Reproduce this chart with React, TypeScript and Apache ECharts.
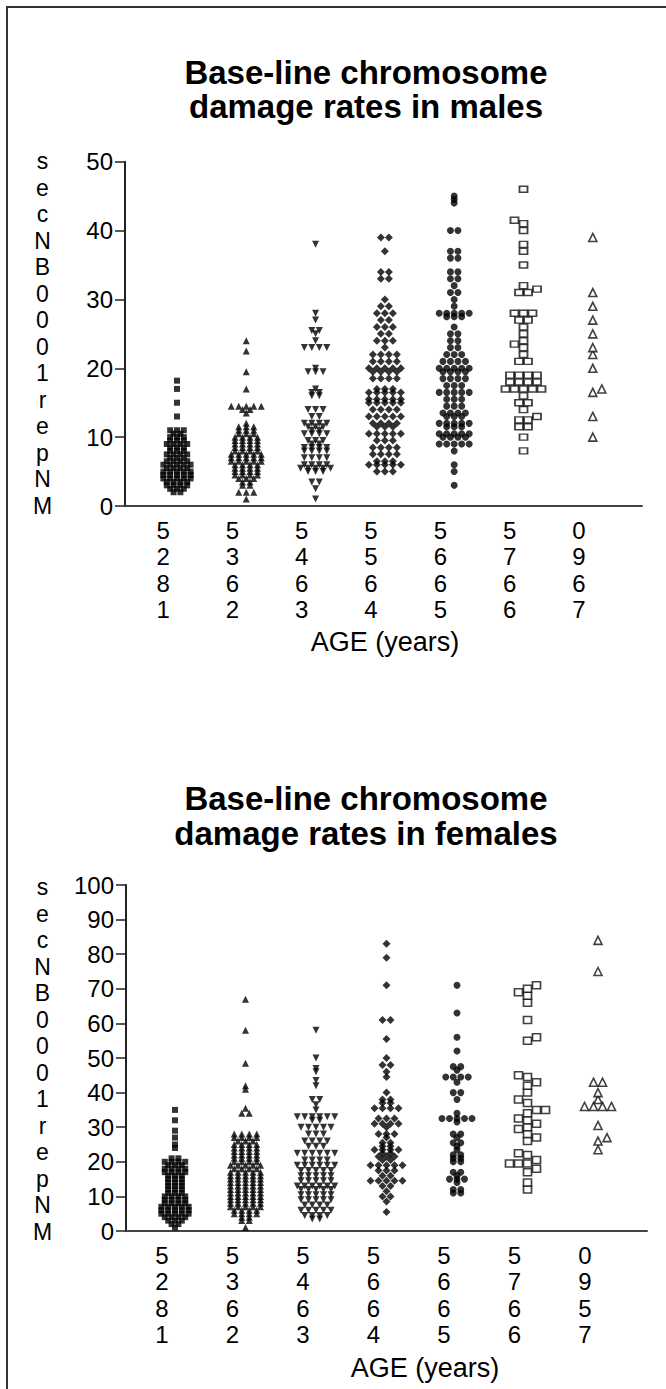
import React, { useEffect, useRef } from "react";
import * as echarts from "echarts";

// ---------- DATA ----------
const ageLabelsMale = ["5\n2\n8\n1", "5\n3\n6\n2", "5\n4\n6\n3", "5\n5\n6\n4", "5\n6\n6\n5", "5\n7\n6\n6", "0\n9\n6\n7"];
const ageLabelsFemale = ["5\n2\n8\n1", "5\n3\n6\n2", "5\n4\n6\n3", "5\n6\n6\n4", "5\n6\n6\n5", "5\n7\n6\n6", "0\n9\n5\n7"];
const yAxisTitle = "s\ne\nc\nN\nB\n0\n0\n0\n1\nr\ne\np\nN\nM";
const titleMale = "Base-line chromosome\ndamage rates in males";
const titleFemale = "Base-line chromosome\ndamage rates in females";
const xAxisTitle = "AGE (years)";
const maleMax = 50;
const femaleMax = 100;
const tickStep = 10;

const male1 = [18.2, 17, 15, 13, 11, 11, 11, 10.5, 10.5, 10, 10, 10, 9.5, 9.5, 9.5, 9, 9, 9, 9, 8.5, 8.5, 8.5, 8, 8, 8,
  7.5, 7.5, 7.5, 7.5, 7, 7, 7, 6.5, 6.5, 6.5, 6.5, 6, 6, 6, 6, 6, 5.5, 5.5, 5.5, 5.5, 5, 5, 5, 5, 5,
  4.5, 4.5, 4.5, 4.5, 4.5, 4, 4, 4, 4, 4, 3.5, 3.5, 3.5, 3.5, 3, 3, 3, 3, 2.5, 2.5, 2.5, 2, 2];
const male2 = [24, 22.5, 19.5, 17, 14.5, 14.5, 14.5, 14.5, 14.5, 14, 14, 13.5, 12, 11.5, 11.5, 11.5, 11, 11, 11,
  10.5, 10.5, 10.5, 10, 10, 10, 10, 9.5, 9.5, 9.5, 9.5, 9, 9, 9, 9, 8.5, 8.5, 8.5, 8.5, 8, 8, 8, 8,
  7.5, 7.5, 7.5, 7.5, 7.5, 7, 7, 7, 7, 7, 6.5, 6.5, 6.5, 6.5, 6.5, 6, 6, 6, 6, 5.5, 5.5, 5.5, 5.5,
  5, 5, 5, 5, 4.5, 4.5, 4.5, 4.5, 4, 4, 4, 3.5, 3.5, 3, 3, 2, 2, 2, 1];
const male3 = [38, 28, 27, 25.5, 25.5, 25, 24, 23, 23, 23, 23, 20, 19.5, 19.5, 19.5, 17, 16.5, 16.5, 16, 16,
  14, 14, 14, 13, 13, 12, 12, 12, 12, 11.5, 11.5, 11.5, 11, 11, 10.5, 10.5, 10.5, 10.5, 9.5, 9.5, 9.5, 9, 9,
  8.5, 8.5, 8.5, 8.5, 8, 8, 8, 8, 7, 7, 7, 7, 6, 6, 6, 6, 5.5, 5.5, 5.5, 5.5, 5.5, 5, 5, 5, 3.5, 3.5, 2.5, 1];
const male4 = [39, 39, 37, 34, 34, 33, 33, 30, 29, 29, 28, 28, 28, 27, 27, 26, 26, 26, 25, 25, 24, 24, 24, 23,
  22, 22, 22, 22, 21, 21, 21, 21, 20, 20, 20, 20, 20, 19.5, 19.5, 19.5, 19.5, 18.5, 18.5, 18.5, 18.5, 17, 17, 17,
  16.5, 16.5, 16.5, 16.5, 16.5, 15.5, 15.5, 15.5, 15.5, 15.5, 15, 15, 15, 15, 15, 14, 14, 14, 14,
  13, 13, 13, 13, 13, 12, 12, 12, 12, 11.5, 11.5, 11.5, 10.5, 10.5, 10.5, 10.5, 10.5, 9.5, 9.5, 9.5,
  8.5, 8.5, 8.5, 8.5, 7.5, 7.5, 7.5, 7.5, 6.5, 6.5, 6.5, 6, 6, 6, 6, 6, 5, 5, 5];
const male5 = [45, 44.5, 44, 40, 40, 37, 37, 36, 36, 34, 34, 33, 33, 32, 31, 31, 30, 29, 28, 28, 28, 28, 28,
  27.5, 27.5, 27.5, 26, 25, 25, 24, 24, 23, 23, 22, 22, 22, 21, 21, 21, 21, 20, 20, 20, 20, 20,
  19.5, 19.5, 19.5, 19.5, 18.5, 18.5, 18.5, 18.5, 17.5, 17.5, 17.5, 16.5, 16.5, 16.5, 16.5, 16.5,
  15.5, 15.5, 15.5, 14.5, 14.5, 14.5, 13.5, 13.5, 13.5, 13.5, 13, 13, 13, 12, 12, 12, 12, 12,
  11.5, 11.5, 11.5, 10.5, 10.5, 10.5, 10.5, 10.5, 10, 10, 10, 10, 9, 9, 9, 9, 9, 8, 6, 5, 3];
const male6 = [46, 41.5, 41, 40, 38, 37, 35, 32, 31.5, 31, 31, 28, 28, 28, 27, 27, 26, 25, 24, 23.5, 23, 22,
  21, 21, 19, 19, 19, 19, 18, 18, 18, 18, 17, 17, 17, 17, 17, 16, 15, 15, 14, 13, 12.5, 12.5, 11.5, 11.5, 10, 8];
const male7 = [39, 31, 29, 27, 25, 23, 22, 20, 17, 16.5, 13, 10];

const female1 = [35, 32, 29, 27, 25, 24, 21, 21, 20, 20, 20, 20, 19, 19, 19, 18, 18, 18, 18, 17, 17, 17, 17,
  16, 16, 16, 15, 15, 15, 14, 14, 14, 13, 13, 13, 12, 12, 12, 11, 11, 11, 10, 10, 10, 10, 9, 9, 9, 9,
  8, 8, 8, 8, 7, 7, 7, 7, 7, 6, 6, 6, 6, 6, 5, 5, 5, 5, 5, 4, 4, 4, 4, 3, 3, 3, 2, 2, 1];
const female2 = [67, 58, 48.5, 42, 41, 35.5, 34, 34, 28, 28, 28, 28, 27, 27, 27, 27, 26, 26, 26, 25, 25, 25, 25,
  24, 24, 24, 24, 23, 23, 23, 23, 22, 22, 22, 22, 21, 21, 21, 21, 20, 20, 20, 20, 19, 19, 19, 19, 19,
  18, 18, 18, 18, 17, 17, 17, 17, 17, 16, 16, 16, 16, 16, 15, 15, 15, 15, 15, 14, 14, 14, 14, 14,
  13, 13, 13, 13, 13, 12, 12, 12, 12, 12, 11, 11, 11, 11, 11, 10, 10, 10, 10, 10, 9, 9, 9, 9, 9,
  8, 8, 8, 8, 8, 7, 7, 7, 7, 7, 6, 6, 6, 6, 5, 5, 5, 5, 4, 4, 3, 3, 1];
const female3 = [58, 50, 47, 46, 43.5, 42, 38, 38, 36.5, 35, 33, 33, 33, 33, 33, 33, 32, 32, 30, 30, 30, 30, 30,
  28, 28, 28, 26, 26, 26, 26, 24.5, 24.5, 24.5, 22.5, 22.5, 22.5, 22.5, 22.5, 22.5, 20.5, 20.5, 20.5, 20.5,
  19, 19, 19, 19, 19, 19, 17.5, 17.5, 17.5, 17.5, 17.5, 16, 16, 16, 16, 16, 14.5, 14.5, 14.5, 14.5, 14.5,
  13, 13, 13, 13, 13, 13, 12, 12, 12, 12, 12, 10.5, 10.5, 10.5, 10.5, 10.5, 9, 9, 9, 9, 9,
  7.5, 7.5, 7.5, 7.5, 6, 6, 6, 6, 6, 4.5, 4.5, 4.5, 4.5, 3.5, 3.5];
const female4 = [83, 79, 71, 61, 61, 55.5, 50, 48, 48, 46, 44.5, 40, 38, 38, 37, 37, 35.5, 35.5, 35.5, 35.5,
  32.5, 32.5, 32.5, 31, 31, 31, 31, 30, 28, 28, 28, 27, 25.5, 25.5, 24.5, 24.5, 23.5, 23.5, 23.5, 23.5,
  22.5, 22.5, 21.5, 21.5, 21.5, 20.5, 20.5, 19, 19, 19, 19, 19, 17.5, 17.5, 17.5, 16, 16,
  14.5, 14.5, 14.5, 14.5, 14.5, 13, 13, 11.5, 10, 10, 8.5, 5.5];
const female5 = [71, 63, 56, 52, 47.5, 47.5, 46.5, 44.5, 44.5, 44.5, 44.5, 43, 40, 40, 38, 34,
  32.5, 32.5, 32.5, 32.5, 32.5, 31.5, 28, 28, 27, 25.5, 25.5, 24.5, 23.5, 22, 22, 21, 21, 20, 20,
  17, 17, 16, 15, 15, 15, 14, 12, 12, 11, 11];
const female6 = [71, 70, 69, 68, 66, 61, 56, 55, 45, 44.5, 43, 42, 40, 38, 37, 35, 35, 34, 32.5, 32, 31, 30,
  29.5, 28, 27, 26, 22.5, 22, 20.5, 19.5, 19.5, 19.5, 18, 17, 14, 12];
const female7 = [84, 75, 43, 43, 40, 38, 36, 36, 36, 36, 30.5, 27, 26, 23.5];

// ---------- LAYOUT ----------
const FONT = "'Liberation Sans', Arial, Helvetica, sans-serif";
const G1 = { left: 125, top: 161.7, width: 517, height: 344.3 };
const G2 = { left: 126, top: 885, width: 521, height: 346 };
const X1 = { min: 0.25, max: 7.71, shift: -0.2 };
const X2 = { min: 0.305, max: 7.695, shift: -0.184 };

type Spec = { sym: string; size: number[]; rot?: number; open?: boolean; vy: number; hx: number };
const specs: Spec[] = [
  { sym: "rect", size: [6, 6], vy: 3, hx: 6.8 },
  { sym: "triangle", size: [7, 7], vy: 3, hx: 7.5 },
  { sym: "triangle", size: [7, 7], rot: 180, vy: 3, hx: 7.5 },
  { sym: "diamond", size: [8, 8], vy: 3, hx: 8 },
  { sym: "circle", size: [7, 7], vy: 3, hx: 7.5 },
  { sym: "rect", size: [8, 6], open: true, vy: 6.5, hx: 9 },
  { sym: "triangle", size: [8, 8], open: true, vy: 6, hx: 9 },
];

// Prism-like column scatter: equal values share a centred row; rows that would collide are shifted sideways.
function swarm(values: number[], xc: number, pxX: number, pxY: number, hx: number, vy: number) {
  const sorted = [...values].sort((a, b) => a - b);
  const groups: number[][] = [];
  for (const v of sorted) {
    const g = groups[groups.length - 1];
    if (g && g[0] === v) g.push(v);
    else groups.push([v]);
  }
  const placed: [number, number][] = [];
  const out: [number, number][] = [];
  let flip = 1;
  for (const g of groups) {
    const n = g.length;
    const py = g[0] * pxY;
    const base = g.map((_, j) => (j - (n - 1) / 2) * hx);
    let shift = 0;
    for (let k = 0; k < 80; k++) {
      const cands = k === 0 ? [0] : [(flip * k * hx) / 2, (-flip * k * hx) / 2];
      let found: number | null = null;
      for (const c of cands) {
        const ok = base.every((b) =>
          placed.every((p) => Math.abs(p[1] - py) >= vy || Math.abs(p[0] - (b + c)) >= hx - 0.01)
        );
        if (ok) {
          found = c;
          break;
        }
      }
      if (found !== null) {
        shift = found;
        break;
      }
    }
    if (shift !== 0) flip = -flip;
    for (const b of base) {
      placed.push([b + shift, py]);
      out.push([xc + (b + shift) / pxX, g[0]]);
    }
  }
  return out;
}

function buildSeries(groups: number[][], gi: number, grid: any, xr: any, yMax: number) {
  const pxX = grid.width / (xr.max - xr.min);
  const pxY = grid.height / yMax;
  return groups.map((vals, i) => {
    const s = specs[i];
    const sz = gi === 1 && s.open && s.sym === "rect" ? [8, 7] : s.size;
    return {
      type: "scatter",
      xAxisIndex: gi,
      yAxisIndex: gi,
      symbol: s.sym,
      symbolSize: sz,
      symbolRotate: s.rot || 0,
      silent: true,
      itemStyle: s.open
        ? { color: "#fff", borderColor: "#111", borderWidth: 1.6 }
        : { color: "#000" },
      data: swarm(vals, i + 1, pxX, pxY, s.hx, s.vy),
    };
  });
}

function xAxisOf(gi: number, xr: any, labels: string[]) {
  return {
    type: "value",
    gridIndex: gi,
    min: xr.min,
    max: xr.max,
    axisLine: { show: true, onZero: false, lineStyle: { color: "#444", width: 2 } },
    axisTick: { show: false },
    splitLine: { show: false },
    axisLabel: {
      customValues: labels.map((_, i) => i + 1 + xr.shift),
      formatter: (v: number) => labels[Math.round(v - xr.shift) - 1] ?? "",
      fontSize: 24,
      lineHeight: 26.5,
      color: "#000",
      fontFamily: FONT,
      margin: 11,
    },
  };
}

function yAxisOf(gi: number, max: number) {
  return {
    type: "value",
    gridIndex: gi,
    min: 0,
    max,
    interval: tickStep,
    axisLine: { show: true, lineStyle: { color: "#222", width: 2 } },
    axisTick: { show: true, length: 10, inside: false, lineStyle: { color: "#222", width: 1.5 } },
    splitLine: { show: false },
    axisLabel: { fontSize: 24, color: "#000", fontFamily: FONT, margin: 12 },
  };
}

export default function App() {
  const ref = useRef<HTMLDivElement>(null);
  useEffect(() => {
    if (!ref.current) return;
    const chart = echarts.init(ref.current, null, { renderer: "svg" });
    const titleStyle = { fontSize: 33, fontWeight: "bold", fontFamily: FONT, fill: "#000", align: "center", verticalAlign: "middle" };
    const yNameStyle = { text: yAxisTitle, fontSize: 23, lineHeight: 26.5, fontFamily: FONT, fill: "#000", align: "center", verticalAlign: "middle" };
    const xNameStyle = { text: xAxisTitle, fontSize: 27, fontFamily: FONT, fill: "#000", align: "center", verticalAlign: "middle" };
    chart.setOption({
      animation: false,
      backgroundColor: "#fff",
      grid: [
        { ...G1, containLabel: false },
        { ...G2, containLabel: false },
      ],
      xAxis: [xAxisOf(0, X1, ageLabelsMale), xAxisOf(1, X2, ageLabelsFemale)],
      yAxis: [yAxisOf(0, maleMax), yAxisOf(1, femaleMax)],
      series: [
        ...buildSeries([male1, male2, male3, male4, male5, male6, male7], 0, G1, X1, maleMax),
        ...buildSeries([female1, female2, female3, female4, female5, female6, female7], 1, G2, X2, femaleMax),
      ],
      graphic: [
        { type: "rect", shape: { x: 7, y: 7, width: 800, height: 2000 }, style: { fill: "none", stroke: "#333", lineWidth: 2 }, silent: true },
        { type: "text", x: 366, y: 89, style: { ...titleStyle, text: titleMale, lineHeight: 34 } },
        { type: "text", x: 366, y: 815.5, style: { ...titleStyle, text: titleFemale, lineHeight: 35 } },
        { type: "text", x: 42.5, y: 333.5, style: yNameStyle },
        { type: "text", x: 42.5, y: 1059.5, style: yNameStyle },
        { type: "text", x: 385, y: 642, style: xNameStyle },
        { type: "text", x: 425, y: 1368, style: xNameStyle },
      ],
    });
    return () => chart.dispose();
  }, []);
  return (
    <div
      ref={ref}
      style={{ position: "absolute", left: 0, top: 0, width: 666, height: 1389, background: "#fff" }}
    />
  );
}
